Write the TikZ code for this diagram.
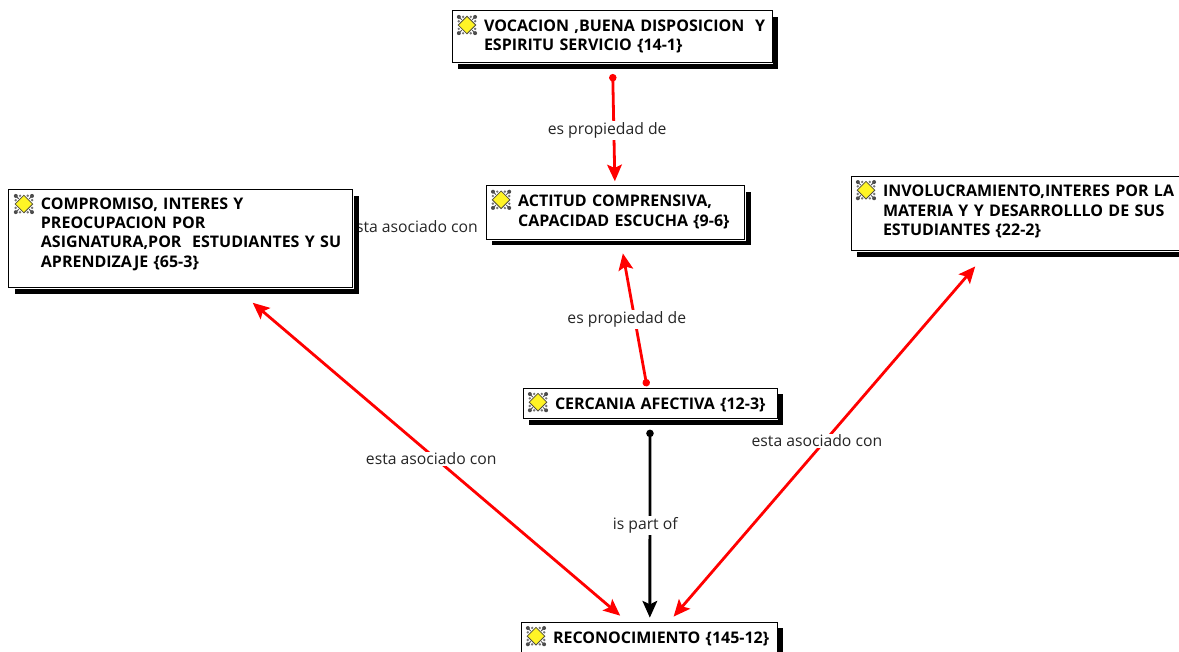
\documentclass[tikz,border=0pt]{standalone}
\usepackage{fontspec}
\setmainfont{Open Sans}
\usetikzlibrary{arrows.meta,shadows}

\tikzstyle{quotebox} = [rectangle, draw, fill=white, line width=.75pt, inner sep=0pt, align=left,
    font=\bfseries\fontsize{12}{14.5}\selectfont,
    drop shadow={shadow xshift=4.5pt, shadow yshift=-4.5pt, fill=black, opacity=1},
    preaction={draw=white, line width=2.2pt},
    execute at begin node={\leftskip=24pt\relax}]
\tikzstyle{linklabel} = [fill=white, inner sep=1pt, text=black!85,
    font=\fontsize{11.8}{14}\selectfont]
\tikzstyle{line} = [draw, line width=2.1pt, shorten >=1.5pt,
    -{Stealth[length=12.5pt,width=11pt,inset=2.5pt]}]
\tikzstyle{propline} = [line, red, shorten <=7.9pt, shorten >=3pt,
    {Circle[length=5.5pt]}-{Stealth[length=12.5pt,width=11pt,inset=2.5pt]}]
\tikzstyle{partline} = [line, black, shorten <=7.8pt, shorten >=3pt,
    {Circle[length=5.5pt]}-{Stealth[length=12.5pt,width=11pt,inset=2.5pt]}]
\tikzstyle{assocline} = [line, red,
    {Stealth[length=12.5pt,width=11pt,inset=2.5pt]}-{Stealth[length=12.5pt,width=11pt,inset=2.5pt]}]

\newcommand{\tailgap}[1]{\rule[-#1]{0pt}{#1}}
\newcommand{\quoteicon}[1]{%
    \begin{scope}[shift={([shift={(11.6pt,-10.9pt)}]#1.north west)}]
        \foreach \a in {45,135,225,315}{
            \draw[black!65, line width=.7pt] (\a:5.5pt) -- (\a:8.6pt);
            \fill[black!70] (\a:8.6pt) circle (1.5pt);
            \fill[black!55] (\a+20:6.8pt) circle (1pt);
            \fill[black!55] (\a-20:6.8pt) circle (1pt);
        }
        \draw[black!65!yellow!60!black, line width=.6pt, fill=yellow!85!white]
            (0:6.6pt) -- (90:6.6pt) -- (180:6.6pt) -- (270:6.6pt) -- cycle;
    \end{scope}}

\begin{document}
\begin{tikzpicture}
    \useasboundingbox (0,0) rectangle (884.25pt,-489pt);

    % hidden behind the left box
    \node[linklabel, fill=none](HiddenLabel) at (309.4pt,-170.2pt){esta asociado con};

    \node[quotebox, minimum width=240pt, minimum height=39pt, text width=240pt]
        (Vocacion) at (459pt,-27.75pt){VOCACION ,BUENA DISPOSICION\ \ Y\\
            ESPIRITU SERVICIO \{14-1\}\tailgap{2.5pt}};
    \node[quotebox, below of=Vocacion, node distance=131.6pt, xshift=2.6pt,
          minimum width=194pt, minimum height=40pt, text width=194pt]
        (Actitud){ACTITUD COMPRENSIVA,\\
            CAPACIDAD ESCUCHA \{9-6\}\tailgap{2.5pt}};
    \node[quotebox, below of=Actitud, node distance=143.25pt, xshift=25.9pt,
          minimum width=190.5pt, minimum height=23pt, text width=190.5pt]
        (Cercania){\rule{0pt}{10.8pt}CERCANIA AFECTIVA \{12-3\}};
    \node[quotebox, below of=Cercania, node distance=175.5pt, xshift=-.75pt,
          minimum width=192pt, minimum height=23pt, text width=192pt]
        (Reconocimiento){\rule{0pt}{10.8pt}RECONOCIMIENTO \{145-12\}};
    \node[quotebox, left of=Actitud, node distance=325.9pt, yshift=-19.9pt,
          minimum width=258pt, minimum height=73.5pt, text width=258pt]
        (Compromiso){COMPROMISO, INTERES Y\\
            PREOCUPACION POR\\
            ASIGNATURA,POR\ \ ESTUDIANTES Y SU\\
            APRENDIZAJE \{65-3\}\tailgap{10pt}};
    \node[quotebox, right of=Actitud, node distance=303.4pt, yshift=-.75pt,
          minimum width=253.5pt, minimum height=56pt, text width=253.5pt]
        (Involucramiento){INVOLUCRAMIENTO,INTERES POR LA\\
            MATERIA Y Y DESARROLLLO DE SUS\\
            ESTUDIANTES \{22-2\}\tailgap{4.5pt}};

    \quoteicon{Vocacion}
    \quoteicon{Actitud}
    \quoteicon{Cercania}
    \quoteicon{Reconocimiento}
    \quoteicon{Compromiso}
    \quoteicon{Involucramiento}

    \path[propline](Vocacion) -- node[linklabel, pos=.55, xshift=-5pt]{es propiedad de} (Actitud);
    \path[propline, shorten <=1pt, shorten >=10.5pt](Cercania)
        -- node[linklabel, pos=.46, xshift=-6pt]{es propiedad de} (Actitud);
    \path[partline](Cercania) -- node[linklabel, pos=.525, xshift=-3.5pt]{is part of} (Reconocimiento.87);

    \path[assocline, shorten <=16.5pt, shorten >=6.9pt](Compromiso.-42.8)
        -- node[linklabel, pos=.512, xshift=-3.75pt]{esta asociado con} (Reconocimiento.144.8);
    \path[assocline, shorten <=15pt, shorten >=5pt](Involucramiento.230.4)
        -- node[linklabel, pos=.512, xshift=-6pt]{esta asociado con} (Reconocimiento.38);
\end{tikzpicture}
\end{document}
